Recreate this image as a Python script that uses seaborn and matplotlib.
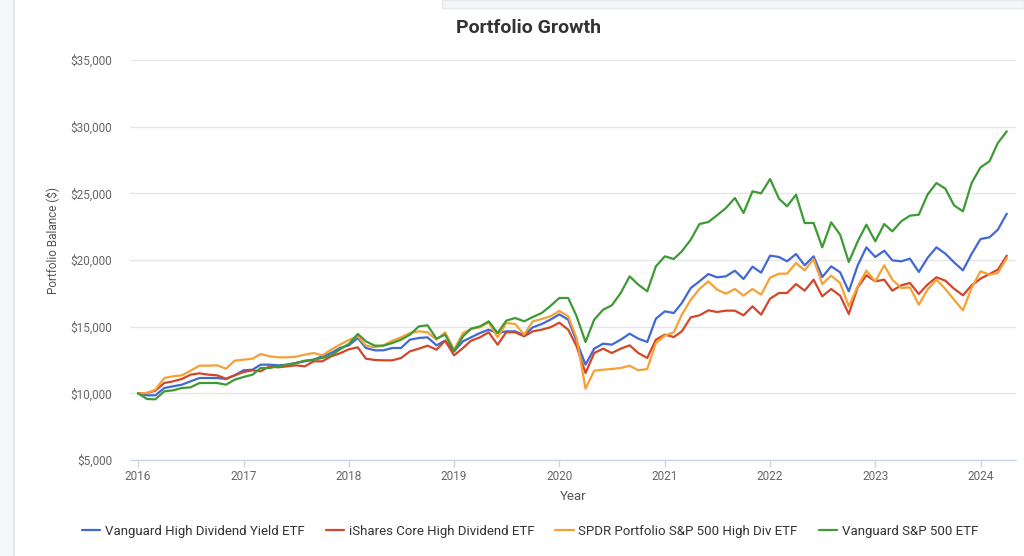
import pandas as pd
import numpy as np
import matplotlib.pyplot as plt
import matplotlib.dates as mdates
from matplotlib.ticker import FuncFormatter
from matplotlib.patches import Rectangle
import seaborn as sns

# Monthly balances of a $10,000 start, Jan 2016 - Apr 2024
months = pd.date_range('2016-01-01', periods=100, freq='MS')

vym = [10000, 9850, 9850, 10400, 10525, 10650, 10900, 11150, 11150, 11150, 11075, 11350,
       11725, 11775, 12150, 12150, 12100, 12150, 12275, 12400, 12525, 12775, 13025, 13400,
       13600, 14150, 13400, 13225, 13225, 13400, 13400, 14025, 14150, 14200, 13600, 13950,
       13150, 13900, 14200, 14525, 14775, 14525, 14650, 14650, 14350, 14950, 15200, 15525,
       15925, 15525, 13900, 12150, 13350, 13725, 13650, 14025, 14475, 14100, 13850, 15600,
       16150, 16025, 16775, 17900, 18400, 18950, 18700, 18775, 19200, 18575, 19500, 19050,
       20325, 20225, 19900, 20450, 19600, 20275, 18725, 19525, 19075, 17650, 19600, 20950,
       20225, 20700, 19975, 19900, 20100, 19100, 20150, 20950, 20475, 19825, 19225, 20450,
       21575, 21700, 22275, 23475]

hdv = [10000, 10025, 10200, 10775, 10900, 11075, 11400, 11500, 11400, 11350, 11100, 11350,
       11600, 11725, 11650, 12025, 11950, 12025, 12100, 12025, 12400, 12400, 12775, 13000,
       13300, 13450, 12600, 12500, 12475, 12475, 12650, 13150, 13350, 13575, 13275, 13950,
       12850, 13400, 13950, 14200, 14575, 13650, 14575, 14575, 14275, 14650, 14775, 14950,
       15300, 14775, 13525, 11525, 13025, 13350, 13025, 13350, 13600, 13025, 12650, 14025,
       14400, 14225, 14650, 15700, 15850, 16225, 16100, 16200, 16200, 15850, 16525, 15900,
       17100, 17525, 17525, 18200, 17700, 18525, 17275, 17825, 17325, 15950, 17950, 18850,
       18400, 18525, 17700, 18100, 18275, 17450, 18150, 18700, 18450, 17850, 17350, 18100,
       18600, 18950, 19275, 20325]

spyd = [10000, 10025, 10275, 11150, 11275, 11350, 11700, 12075, 12075, 12100, 11850, 12450,
        12525, 12600, 12950, 12775, 12700, 12700, 12750, 12900, 13025, 12850, 13275, 13650,
        14000, 14275, 13575, 13450, 13600, 13950, 14200, 14525, 14650, 14575, 14025, 14575,
        13275, 14525, 14825, 14950, 15325, 14200, 15275, 15200, 14400, 15400, 15575, 15775,
        16175, 15775, 14150, 10350, 11700, 11775, 11825, 11900, 12075, 11725, 11825, 13775,
        14325, 14575, 15900, 17025, 17825, 18400, 17775, 17475, 17825, 17325, 17825, 17400,
        18675, 18975, 18975, 19775, 19225, 20075, 18200, 18825, 18275, 16525, 18025, 19200,
        18400, 19600, 18525, 17900, 17950, 16650, 17775, 18525, 17825, 17025, 16225, 17900,
        19150, 18900, 19025, 20150]

voo = [10000, 9575, 9550, 10150, 10225, 10400, 10450, 10775, 10775, 10775, 10650, 11025,
       11225, 11400, 11900, 11900, 12025, 12150, 12275, 12450, 12525, 12650, 12850, 13300,
       13700, 14450, 13900, 13575, 13575, 13775, 14025, 14400, 15025, 15100, 14100, 14400,
       13150, 14275, 14850, 15025, 15400, 14525, 15450, 15650, 15400, 15725, 16025, 16550,
       17150, 17150, 15775, 13850, 15525, 16275, 16600, 17525, 18775, 18150, 17650, 19525,
       20275, 20075, 20650, 21525, 22700, 22850, 23350, 23900, 24650, 23525, 25150, 25000,
       26075, 24600, 24025, 24900, 22775, 22775, 20950, 22825, 21900, 19850, 21400, 22650,
       21400, 22700, 22150, 22900, 23325, 23400, 24900, 25775, 25350, 24100, 23650, 25775,
       26950, 27400, 28775, 29650]

fund_names = ['Vanguard High Dividend Yield ETF', 'iShares Core High Dividend ETF',
              'SPDR Portfolio S&P 500 High Div ETF', 'Vanguard S&P 500 ETF']
fund_colors = ['#4169d6', '#d2472b', '#f7a035', '#3e9a35']
y_ticks = [5000, 10000, 15000, 20000, 25000, 30000, 35000]

df = pd.DataFrame({'Month': months, fund_names[0]: vym, fund_names[1]: hdv,
                   fund_names[2]: spyd, fund_names[3]: voo})
df = df.melt(id_vars='Month', var_name='Fund', value_name='Balance')

sns.set_theme(style='white')
plt.rcParams['font.family'] = ['Roboto', 'DejaVu Sans']

fig = plt.figure(figsize=(10.24, 5.56), dpi=100)

# page decoration around the chart card
fig.patches.append(Rectangle((0, 0), 13 / 1024, 1, transform=fig.transFigure,
                             facecolor='#f5f6fa', edgecolor='none', zorder=0))
fig.patches.append(Rectangle((13 / 1024, 0), 1.5 / 1024, 1, transform=fig.transFigure,
                             facecolor='#e6e7eb', edgecolor='none', zorder=0))
fig.patches.append(Rectangle((442 / 1024, 1 - 8 / 556), 582 / 1024, 8 / 556,
                             transform=fig.transFigure, facecolor='#f5f6fa',
                             edgecolor='#e6e7eb', linewidth=1, zorder=0))

ax = fig.add_axes([130 / 1024, 1 - 460 / 556, 886 / 1024, 400 / 556])
sns.lineplot(data=df, x='Month', y='Balance', hue='Fund', hue_order=fund_names,
             palette=fund_colors, linewidth=1.6, ax=ax, legend=False)

ax.set_xlim(pd.Timestamp('2015-12-04'), pd.Timestamp('2024-05-03'))
ax.set_ylim(5000, 35000)
ax.set_yticks(y_ticks)
ax.yaxis.set_major_formatter(FuncFormatter(lambda v, p: f'${v:,.0f}'))
ax.xaxis.set_major_locator(mdates.YearLocator())
ax.xaxis.set_major_formatter(mdates.DateFormatter('%Y'))

ax.grid(axis='y', color='#e6e6e6', linewidth=1)
ax.grid(axis='x', visible=False)
for side in ['top', 'right', 'left']:
    ax.spines[side].set_visible(False)
ax.spines['bottom'].set_color('#ccd6eb')
ax.spines['bottom'].set_linewidth(1)

ax.tick_params(axis='y', length=0, pad=13, labelsize=8.5, labelcolor='#666666')
ax.tick_params(axis='x', length=5, width=1, color='#ccd6eb', pad=2.5,
               labelsize=8.5, labelcolor='#666666', bottom=True)

ax.set_xlabel('Year', fontsize=9.5, color='#555555')
ax.xaxis.set_label_coords(0.5, -0.075)
ax.set_ylabel('Portfolio Balance ($)', fontsize=8.5, color='#555555')
ax.yaxis.set_label_coords(-0.08, 0.548)

fig.text(529 / 1024, 1 - 28 / 556, 'Portfolio Growth', ha='center', va='center',
         fontsize=14, fontweight='bold', color='#333333')

handles = ax.get_lines()[:4]
fig.legend(handles, fund_names, loc='center', bbox_to_anchor=(530 / 1024, 1 - 531 / 556),
           ncol=4, frameon=False, fontsize=9.5, handlelength=1.4, handletextpad=0.35,
           columnspacing=1.6, labelcolor='#333333')

fig.savefig('out.png', dpi=100, facecolor='white')
